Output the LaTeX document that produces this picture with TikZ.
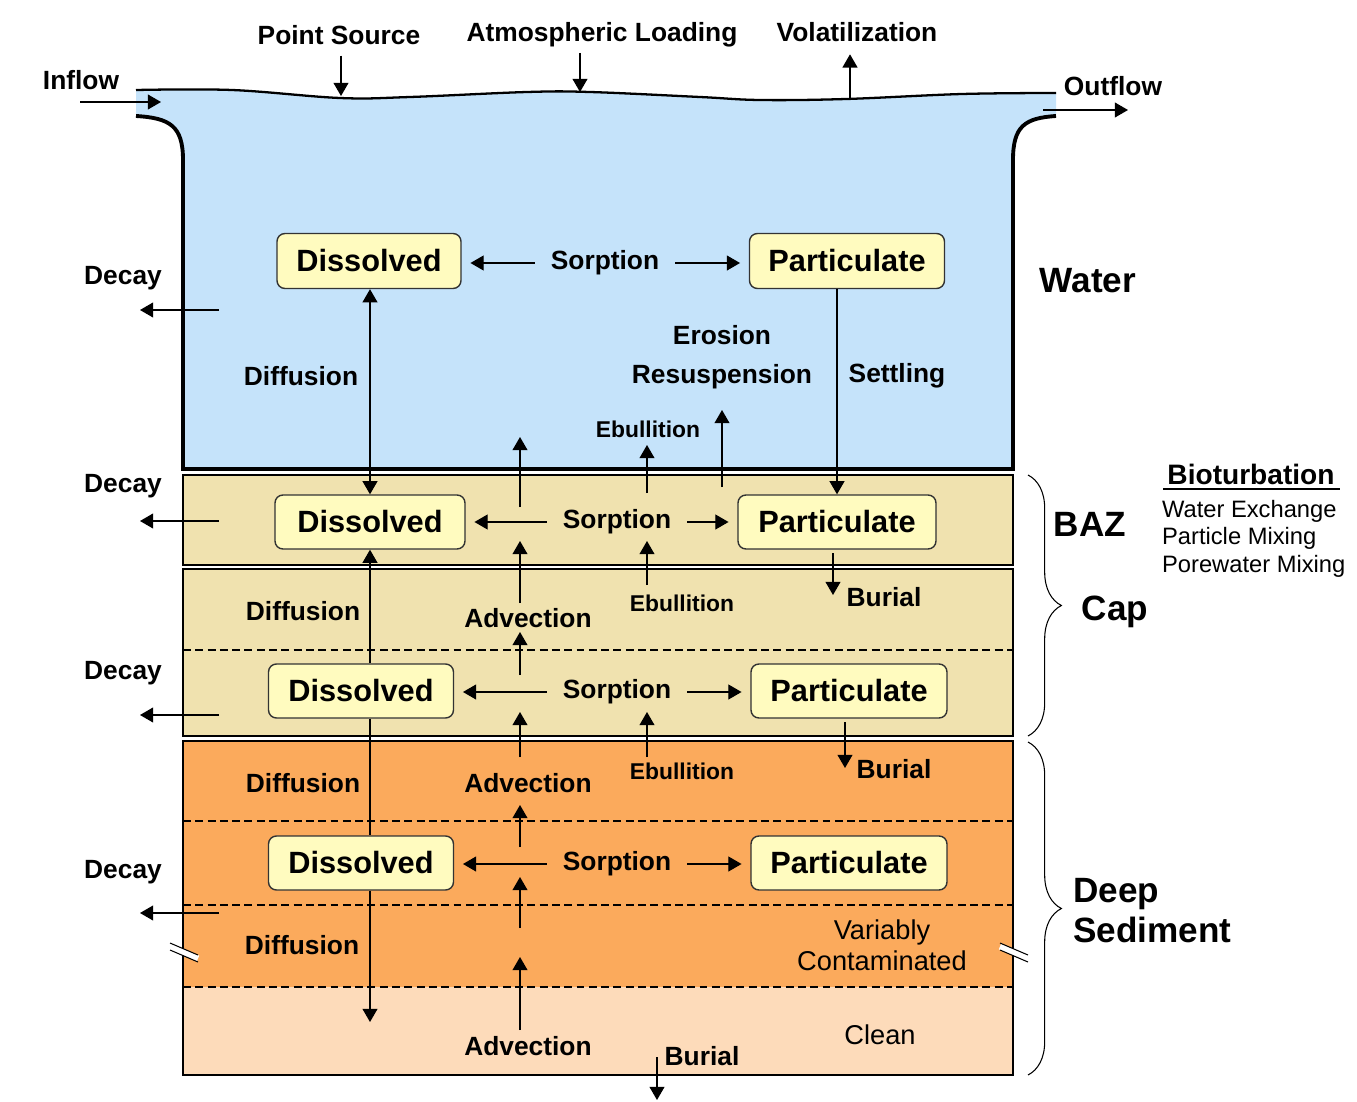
\documentclass[tikz,border=0pt]{standalone}
\usepackage{fontspec}
\setmainfont{Liberation Sans}
\usepackage{xcolor}
\definecolor{cWater}{HTML}{C5E3FA}
\definecolor{cTan}{HTML}{F0E2AF}
\definecolor{cSed}{HTML}{FBAA5C}
\definecolor{cClean}{HTML}{FDDBBA}
\definecolor{cBox}{HTML}{FFFBBF}
\definecolor{cEdge}{HTML}{333333}
\usetikzlibrary{arrows.meta,decorations.pathreplacing}
\tikzset{
  node-box/.style={draw=cEdge,line width=0.8pt,rounded corners=4.5pt,fill=cBox,
    minimum height=1.08cm,align=center,font=\fontsize{17.5}{20}\selectfont\bfseries},
  node-lbl/.style={inner sep=1pt,font=\fontsize{15}{18}\selectfont\bfseries},
  node-small/.style={inner sep=1pt,font=\fontsize{13}{15}\selectfont\bfseries},
  node-zone/.style={inner sep=1pt,font=\fontsize{20}{22.7}\selectfont\bfseries},
  node-plain/.style={inner sep=1pt,align=center,font=\fontsize{15.5}{17.6}\selectfont},
  node-list/.style={inner sep=1pt,align=left,font=\fontsize{13.5}{15.6}\selectfont},
  arrow/.style={-{Triangle[length=7.5pt,width=8.5pt]},line width=0.7pt},
  arrow-both/.style={{Triangle[length=7.5pt,width=8.5pt]}-{Triangle[length=7.5pt,width=8.5pt]},line width=0.7pt},
  arrow-sorp/.style={arrow,shorten <=8pt,shorten >=5pt},
  layer-edge/.style={draw=black,line width=1.6pt},
  wall-edge/.style={draw=black,line width=2.2pt},
  sep-dash/.style={draw=black,line width=1pt,dash pattern=on 4.5pt off 2.5pt},
  brace-zone/.style={decorate,decoration={brace,amplitude=19pt},line width=0.6pt},
}

\begin{document}
\begin{tikzpicture}[x=0.02cm,y=-0.02cm]
  \useasboundingbox (0,0) rectangle (1357,1102);
  % water column
  \fill[cWater] (136,90) -- plot[smooth,tension=0.6] coordinates {(136,90) (232,90) (340,98) (410,97) (527,92) (590,92) (700,97) (760,100) (846,99) (962,94) (1056,93)}
    -- (1056,116) .. controls (1025,118) and (1013,126) .. (1013,160) -- (1013,469)
    -- (183,469) -- (183,160) .. controls (183,126) and (170,118) .. (136,116) -- cycle;
  \draw[line width=1.3pt] plot[smooth,tension=0.6] coordinates {(136,90) (232,90) (340,98) (410,97) (527,92) (590,92) (700,97) (760,100) (846,99) (962,94) (1056,93)};
  \draw[wall-edge] (1056,116) .. controls (1025,118) and (1013,126) .. (1013,160) -- (1013,469)
    -- (183,469) -- (183,160) .. controls (183,126) and (170,118) .. (136,116);
  % sediment layers
  \fill[cTan] (183,475) rectangle (1013,565);
  \fill[cTan] (183,569) rectangle (1013,736);
  \fill[cSed] (183,741) rectangle (1013,987);
  \fill[cClean] (183,987) rectangle (1013,1075);
  \draw[sep-dash] (183,650) -- (1013,650);
  \draw[sep-dash] (183,821) -- (1013,821);
  \draw[sep-dash] (183,905) -- (1013,905);
  \draw[sep-dash] (183,987) -- (1013,987);
  \draw[layer-edge] (183,475) rectangle (1013,565);
  \draw[layer-edge] (183,569) rectangle (1013,736);
  \draw[layer-edge] (183,741) rectangle (1013,1075);
  % break marks
  \foreach \x in {170,1000} {
    \draw[white,line width=3.5pt] (\x,946.5) -- ++(28,12);
    \draw[line width=0.6pt] (\x,943) -- ++(28,12);
    \draw[line width=0.6pt] (\x,950) -- ++(28,12);
  }
  % braces
  \draw[brace-zone] (1028,475) -- (1028,736);
  \draw[brace-zone] (1028,742) -- (1028,1075);

  % top
  \node[node-lbl] (inflow) at (81,80) {Inflow};
  \node[node-lbl] (ps) at (339,35) {Point Source};
  \node[node-lbl] (atm) at (602,35) {Atmospheric Loading};
  \node[node-lbl] (vol) at (857,32) {Volatilization};
  \node[node-lbl] (outflow) at (1113,86) {Outflow};
  \coordinate (in-a) at (80,102);
  \coordinate (in-b) at (161,102);
  \coordinate (out-a) at (1043,110);
  \coordinate (out-b) at (1128,110);
  \coordinate (s-ps) at (341,96);
  \coordinate (s-atm) at (580,92);
  \coordinate (s-vol) at (850,98);
  \draw[arrow] (in-a) -- (in-b);
  \draw[arrow] (out-a) -- (out-b);
  \draw[arrow,shorten <=5pt] (ps.south -| s-ps) -- (s-ps);
  \draw[arrow,shorten <=2pt] (atm.south -| s-atm) -- (s-atm);
  \draw[arrow,shorten >=6pt] (s-vol) -- (vol.south -| s-vol);

  % water
  \node[node-box,minimum width=3.68cm,minimum height=1.1cm] (dw) at (369,261) {Dissolved};
  \node[node-lbl] (sw) at (605,263) {Sorption};
  \node[node-box,minimum width=3.9cm,minimum height=1.1cm] (pw) at (847,261) {Particulate};
  \node[node-lbl] (decw) at (123,278) {Decay};
  \node[node-lbl] (difw) at (301,376) {Diffusion};
  \node[node-lbl,align=center,font=\fontsize{15}{22}\selectfont\bfseries] (eros) at (722,357) {Erosion\\Resuspension};
  \node[node-lbl] (settl) at (897,376) {Settling};
  \node[node-small] (ebw) at (648,429) {Ebullition};
  \node[node-zone] (water) at (1088,281) {Water};

  % BAZ
  \node[node-box,minimum width=3.8cm] (db) at (370,522) {Dissolved};
  \node[node-lbl] (sb) at (617,522) {Sorption};
  \node[node-box,minimum width=3.96cm] (pb) at (837,522) {Particulate};
  \node[node-lbl] (decb) at (123,486) {Decay};
  \node[node-zone] (baz) at (1090,524) {BAZ};

  % cap
  \node[node-lbl] (difc) at (303,611) {Diffusion};
  \node[node-lbl] (advc) at (528,618) {Advection};
  \node[node-small] (ebc) at (682,603) {Ebullition};
  \node[node-lbl] (burc) at (884,597) {Burial};
  \node[node-box,minimum width=3.7cm] (dc) at (361,691) {Dissolved};
  \node[node-lbl] (sc) at (617,692) {Sorption};
  \node[node-box,minimum width=3.92cm] (pc) at (849,691) {Particulate};
  \node[node-lbl] (decc) at (123,673) {Decay};
  \node[node-zone] (cap) at (1115,612) {Cap};

  % deep sediment
  \node[node-lbl] (difd) at (303,783) {Diffusion};
  \node[node-lbl] (advd) at (528,783) {Advection};
  \node[node-small] (ebd) at (682,771) {Ebullition};
  \node[node-lbl] (burd) at (894,769) {Burial};
  \node[node-box,minimum width=3.7cm] (dd) at (361,863) {Dissolved};
  \node[node-lbl] (sd) at (617,864) {Sorption};
  \node[node-box,minimum width=3.92cm] (pd) at (849,863) {Particulate};
  \node[node-lbl] (decd) at (123,872) {Decay};
  \node[node-lbl] (difd2) at (302,945) {Diffusion};
  \node[node-plain] (varc) at (882,945) {Variably\\Contaminated};
  \node[node-plain] (clean) at (880,1035) {Clean};
  \node[node-lbl] (advd2) at (528,1046) {Advection};
  \node[node-lbl] (burbot) at (702,1056) {Burial};
  \node[node-zone,align=left,anchor=west] (deep) at (1071,911) {Deep\\Sediment};

  % bioturbation
  \node[node-lbl,font=\fontsize{16}{19}\selectfont\bfseries] (bio) at (1251,474) {Bioturbation};
  \draw[line width=0.9pt] (1163,489) -- (1340,489);
  \node[node-list,anchor=north west] (biolist) at (1160,498) {Water Exchange\\Particle Mixing\\Porewater Mixing};

  % connectors
  \draw[arrow-both] (dw.south -| db) -- (db.north);
  \draw[arrow] (dc.north -| db) -- (db.south);
  \draw[line width=0.7pt] (dc.south -| db) -- (dd.north -| db);
  \coordinate (dif-end) at (370,1022);
  \draw[arrow] (dd.south -| db) -- (dif-end);
  \draw[arrow] (pw.south -| pb) -- (pb.north);
  \coordinate (bur-b) at (833,595);
  \coordinate (bur-c) at (845,768);
  \draw[arrow,shorten <=2pt] (pb.south -| bur-b) -- (bur-b);
  \draw[arrow,shorten <=2pt] (pc.south -| bur-c) -- (bur-c);
  \coordinate (bot-a) at (657,1057);
  \coordinate (bot-b) at (657,1100);
  \draw[arrow] (bot-a) -- (bot-b);
  \foreach \s/\d/\p in {sw/dw/pw,sb/db/pb,sc/dc/pc,sd/dd/pd} {
    \draw[arrow-sorp] (\s.west) -- (\s.west -| \d.east);
    \draw[arrow-sorp] (\s.east) -- (\s.east -| \p.west);
  }
  \foreach \n/\y in {w/310,b/521,c/715,d/913} {
    \coordinate (dk\n-a) at (219,\y);
    \coordinate (dk\n-b) at (140,\y);
    \draw[arrow] (dk\n-a) -- (dk\n-b);
  }
  \foreach \n/\x/\ya/\yb in {v1/520/507/437,v2/647/493/445,v3/722/487/410,
      v4/520/603/541,v5/647/585/541,v6/520/675/632,v7/520/757/712,
      v8/647/757/712,v9/520/847/805,v10/520/928/877,v11/520/1030/957} {
    \coordinate (\n-a) at (\x,\ya);
    \coordinate (\n-b) at (\x,\yb);
    \draw[arrow] (\n-a) -- (\n-b);
  }
\end{tikzpicture}
\end{document}
